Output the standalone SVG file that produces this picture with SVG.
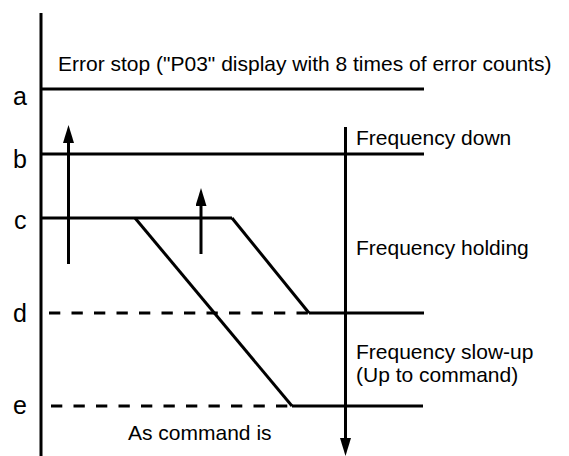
<svg xmlns="http://www.w3.org/2000/svg" width="569" height="456" viewBox="0 0 569 456">
<style>
text{font-family:"Liberation Sans",Arial,sans-serif;fill:#000}
.t{font-size:21px}
.lb{font-size:25px}
.ln{stroke:#000;stroke-width:3;fill:none}
.ds{stroke:#000;stroke-width:3;fill:none;stroke-dasharray:11.3 11.2}
</style>
<defs>
<marker id="ah" viewBox="0 0 18 11" refX="0" refY="5.5" markerWidth="18" markerHeight="11" markerUnits="userSpaceOnUse" orient="auto">
<path d="M0,0 L18,5.5 L0,11 Z" fill="#000"/>
</marker>
</defs>
<rect width="569" height="456" fill="#fff"/>
<g id="axis">
<line class="ln" x1="41" y1="13" x2="41" y2="456"/>
</g>
<g id="levels">
<g id="level-a"><line class="ln" x1="41" y1="89" x2="424" y2="89"/><text class="lb" x="13" y="105">a</text></g>
<g id="level-b"><line class="ln" x1="41" y1="154" x2="424" y2="154"/><text class="lb" x="13" y="168">b</text></g>
<g id="level-c"><line class="ln" x1="41" y1="218" x2="232" y2="218"/><text class="lb" x="14" y="229">c</text></g>
<g id="level-d"><line class="ds" x1="49" y1="313" x2="309" y2="313"/><line class="ln" x1="309" y1="313" x2="424" y2="313"/><text class="lb" x="13" y="322">d</text></g>
<g id="level-e"><line class="ds" x1="51" y1="406" x2="292" y2="406"/><line class="ln" x1="292" y1="406" x2="423" y2="406"/><text class="lb" x="13" y="414">e</text></g>
</g>
<g id="connectors">
<line class="ln" x1="135" y1="218" x2="292" y2="406"/>
<line class="ln" x1="232" y1="218" x2="309" y2="313"/>
<line class="ln" x1="68.5" y1="264" x2="68.5" y2="143" marker-end="url(#ah)"/>
<line class="ln" x1="201" y1="254" x2="201" y2="206" marker-end="url(#ah)"/>
<line class="ln" x1="345.5" y1="127" x2="345.5" y2="438" marker-end="url(#ah)"/>
</g>
<g id="labels">
<text class="t" x="58" y="71">Error stop ("P03" display with 8 times of error counts)</text>
<text class="t" x="356" y="145">Frequency down</text>
<text class="t" x="356" y="255">Frequency holding</text>
<text class="t" x="356" y="359">Frequency slow-up</text>
<text class="t" x="356" y="382">(Up to command)</text>
<text class="t" x="128" y="440">As command is</text>
</g>
</svg>
